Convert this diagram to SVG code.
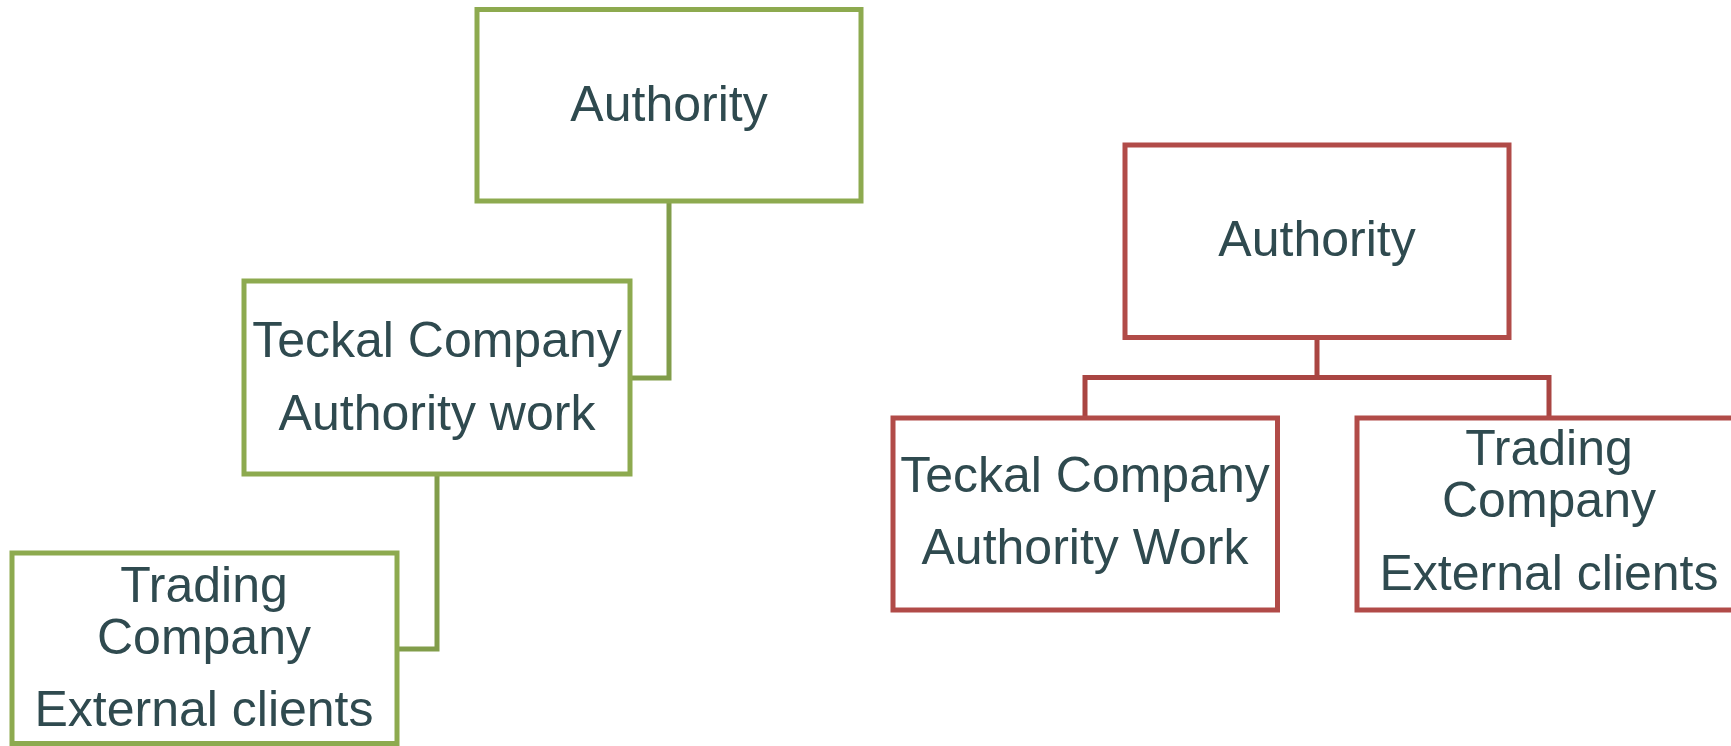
<svg xmlns="http://www.w3.org/2000/svg" width="1731" height="746" viewBox="0 0 1731 746">
<style>
.g{fill:#fff;stroke:#8DAA4F;stroke-width:5}
.r{fill:#fff;stroke:#B14B48;stroke-width:5}
.gc{fill:none;stroke:#819D4A;stroke-width:5}
.rc{fill:none;stroke:#A94542;stroke-width:5}
text{font-family:"Liberation Sans",Arial,sans-serif;font-size:50px;fill:#2F4A4F;text-anchor:middle}
</style>
<rect width="1731" height="746" fill="#fff"/>
<g id="connectors">
<path class="gc" d="M669,201 V378 H630"/>
<path class="gc" d="M437,474 V649 H397"/>
<path class="rc" d="M1317,338 V377.5 M1085,418 V377.5 H1549 V418"/>
</g>
<g id="g-authority"><rect class="g" x="477" y="9.5" width="384" height="191.5"/><text x="669" y="121">Authority</text></g>
<g id="g-teckal"><rect class="g" x="244" y="281" width="386" height="193"/><text x="437" y="357">Teckal Company</text><text x="437" y="430">Authority work</text></g>
<g id="g-trading"><rect class="g" x="12" y="553" width="385" height="190.5"/><text x="204" y="602">Trading</text><text x="204" y="654">Company</text><text x="204" y="726">External clients</text></g>
<g id="r-authority"><rect class="r" x="1125" y="145" width="384" height="192.5"/><text x="1317" y="256">Authority</text></g>
<g id="r-teckal"><rect class="r" x="893" y="418" width="384.5" height="192"/><text x="1085" y="492">Teckal Company</text><text x="1085" y="564">Authority Work</text></g>
<g id="r-trading"><rect class="r" x="1357" y="418" width="384" height="192"/><text x="1549" y="465">Trading</text><text x="1549" y="517">Company</text><text x="1549" y="590">External clients</text></g>
</svg>
